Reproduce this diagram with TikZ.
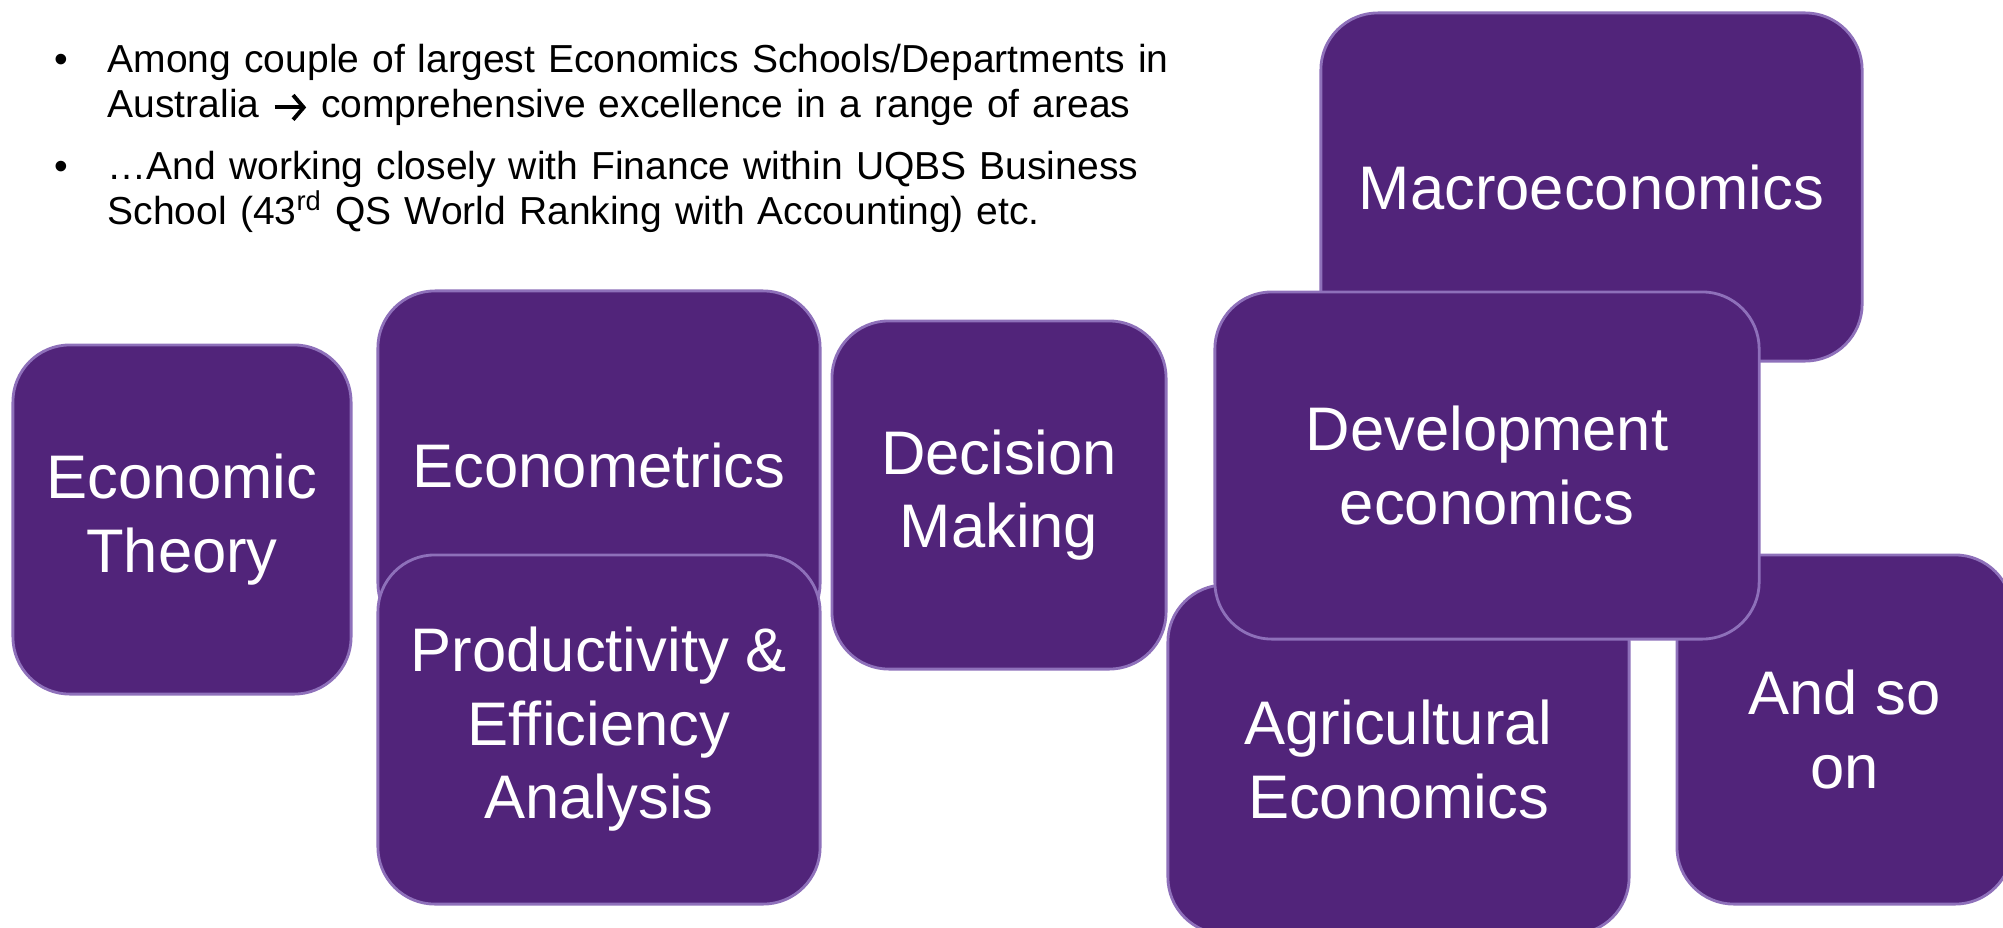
\documentclass[tikz,border=0pt]{standalone}
\usepackage{fontspec}
\setmainfont{Liberation Sans}
\usetikzlibrary{arrows.meta}

\definecolor{uqpurple}{HTML}{51247A}
\definecolor{uqedge}{HTML}{8E70BA}

% small open-headed arrow used inside the text
\newcommand{\thento}{\tikz[baseline=-0.5ex]\draw[line width=1.1pt,-{Straight Barb[length=3pt,width=7pt]}] (0pt,0pt) -- (9pt,0pt);}

\begin{document}
\begin{tikzpicture}
  [x=0.01cm,y=-0.01cm,
   area/.style={rectangle,rounded corners=0.57cm,fill=uqpurple,draw=uqedge,line width=0.8pt,
     text=white,align=center,inner sep=0pt,font=\fontsize{17.5}{20.9}\selectfont},
   points/.style={anchor=north west,text width=12.5cm,align=left,inner sep=0pt,
     font=\fontsize{11.1}{12.8}\selectfont}]

  \useasboundingbox (0,0) rectangle (2003,927);

  % the two bullet points
  \node[points] (intro) at (40,27) {%
    \begin{list}{\textbullet}{\setlength{\leftmargin}{0.67cm}\setlength{\labelsep}{0.4cm}%
      \setlength{\topsep}{0pt}\setlength{\itemsep}{4.8pt}\setlength{\parsep}{0pt}}
    \item Among couple of largest Economics Schools/Departments in\\
      Australia \thento{} comprehensive excellence in a range of areas
    \item …And working closely with Finance within UQBS Business\\
      School (43\textsuperscript{rd} QS World Ranking with Accounting) etc.
    \end{list}};

  % research areas, later ones lie on top
  \node[area,minimum width=3.38cm,minimum height=3.49cm] (theory) at (182,519.5) {Economic\\Theory};
  \node[area,minimum width=4.42cm,minimum height=3.49cm] (metrics) at (599,465.5) {Econometrics};
  \node[area,minimum width=4.42cm,minimum height=3.49cm] (prod) at (599,729.5) {Productivity \&\\Efficiency\\Analysis};
  \node[area,minimum width=3.34cm,minimum height=3.48cm] (decision) at (999,495) {Decision\\Making};
  \node[area,minimum width=5.41cm,minimum height=3.48cm] (macro) at (1591.5,187) {Macroeconomics};
  \node[area,minimum width=4.61cm,minimum height=3.49cm] (agri) at (1398.5,759.5) {Agricultural\\Economics};
  \node[area,minimum width=3.35cm,minimum height=3.49cm] (more) at (1844.5,729.5) {And so\\on};
  \node[area,minimum width=5.44cm,minimum height=3.47cm] (devel) at (1487,465.5) {Development\\economics};

\end{tikzpicture}
\end{document}
